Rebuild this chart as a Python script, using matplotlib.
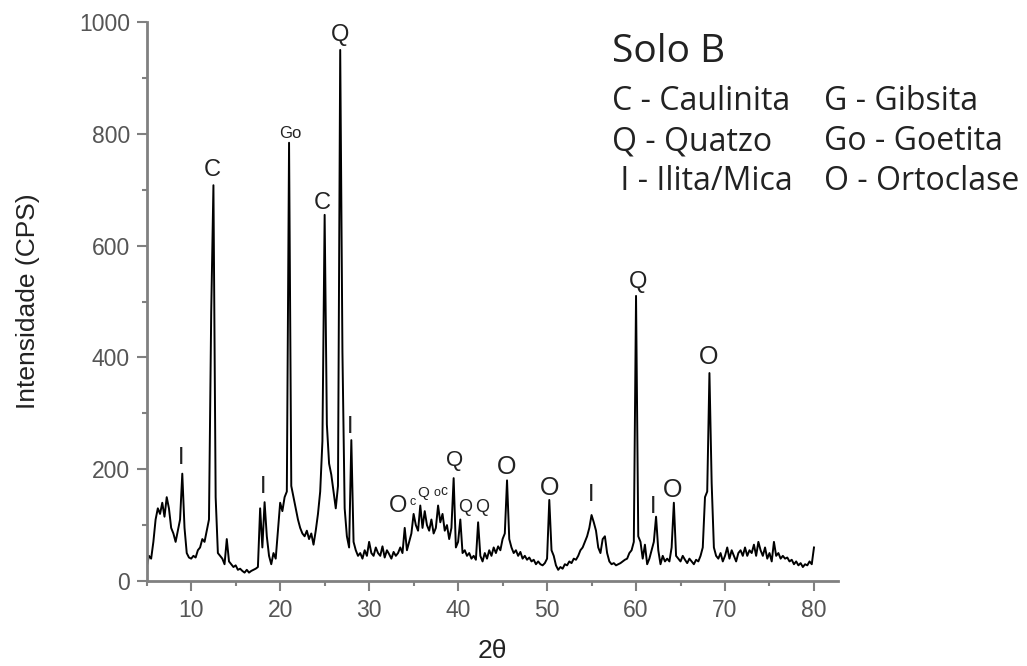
import matplotlib.pyplot as plt
import numpy as np

plt.rcParams['font.family'] = ['Liberation Sans', 'DejaVu Sans']

# XRD pattern, Solo B (2theta step 0.25 deg, 5 to 80)
two_theta = np.arange(5, 80.01, 0.25)
cps = [
    25, 45, 40, 70,      110, 130, 120, 140,   115, 150, 130, 95,    85, 70, 90, 110,
    192, 95, 50, 42,     40, 45, 42, 55,       60, 75, 70, 90,       110, 480, 708, 150,
    50, 45, 40, 30,      75, 35, 30, 25,       28, 20, 22, 18,       15, 20, 15, 18,
    20, 22, 25, 130,     60, 141, 80, 45,      30, 50, 40, 90,       140, 125, 150, 160,
    784, 170, 150, 130,  110, 95, 85, 80,      90, 75, 85, 65,       90, 120, 160, 250,
    655, 280, 210, 190,  160, 130, 170, 950,   410, 130, 80, 60,     252, 70, 55, 45,
    50, 40, 55, 45,      70, 50, 45, 60,       50, 45, 62, 42,       55, 48, 40, 52,
    45, 50, 60, 50,      95, 55, 70, 85,       120, 100, 90, 135,    95, 125, 100, 90,
    110, 85, 95, 135,    105, 120, 90, 100,    75, 95, 184, 60,      70, 110, 50, 55,
    45, 50, 40, 45,      38, 105, 45, 35,      50, 40, 55, 45,       60, 50, 62, 55,
    75, 85, 180, 75,     60, 50, 55, 45,       52, 40, 45, 38,       42, 35, 38, 30,
    35, 30, 28, 32,      40, 145, 55, 45,      28, 20, 25, 22,       30, 28, 35, 32,
    40, 38, 45, 55,      60, 70, 80, 95,       118, 105, 90, 60,     50, 75, 80, 50,
    35, 30, 32, 28,      30, 32, 35, 38,       40, 50, 55, 70,       510, 80, 70, 40,
    65, 30, 40, 55,      70, 115, 55, 30,      45, 35, 40, 35,       60, 140, 45, 40,
    35, 45, 38, 32,      40, 35, 30, 38,       35, 45, 60, 150,      160, 372, 175, 60,
    45, 40, 50, 35,      45, 60, 40, 55,       45, 35, 50, 55,       45, 60, 45, 55,
    50, 65, 45, 70,      55, 45, 60, 40,       50, 35, 70, 45,       50, 40, 45, 40,
    42, 35, 38, 30,      35, 28, 32, 25,       30, 28, 35, 30,
    60,
]

# mineral identification over the peaks
peak_labels = ['I', 'C', 'I', 'Go', 'C', 'Q', 'I', 'O', 'c', 'Q', 'o', 'c',
               'Q', 'Q', 'Q', 'O', 'O', 'I', 'Q', 'I', 'O', 'O']
label_x = [8.9, 12.34, 18.07, 21.1, 24.7, 26.72, 27.85, 33.24, 34.9, 36.05, 37.6, 38.4,
           39.64, 40.76, 42.67, 45.48, 50.3, 54.9, 60.2, 61.9, 64.1, 68.2]
label_y = [220, 735, 168, 801, 676, 977, 275, 134, 142, 157, 157, 161,
           215, 132, 132, 204, 166, 153, 535, 132, 163, 401]
label_size = [17, 17, 17, 12, 17, 17, 17, 17, 9, 11, 9, 10,
              16, 13, 13, 18, 18, 17, 17, 17, 18, 18]

legend_title = 'Solo B'
legend_col1 = ['C - Caulinita', 'Q - Quatzo', ' I - Ilita/Mica']
legend_col2 = ['G - Gibsita', 'Go - Goetita', 'O - Ortoclase']

W, H = 1027, 666
fig = plt.figure(figsize=(W / 100, H / 100), dpi=100)
ax = fig.add_axes([146.7 / W, 1 - 581 / H, (838 - 146.7) / W, (581 - 22) / H])

ax.plot(two_theta, cps, color='black', lw=1.4)

for lab, x, y, s in zip(peak_labels, label_x, label_y, label_size):
    ax.text(x, y, lab, ha='center', va='center', fontsize=s, color='#222222')

ax.set_xlim(5, 82.7)
ax.set_ylim(0, 1000)
ax.set_xticks([10, 20, 30, 40, 50, 60, 70, 80])
ax.set_xticks([5, 15, 25, 35, 45, 55, 65, 75], minor=True)
ax.set_yticks([0, 200, 400, 600, 800, 1000])
ax.set_yticks([100, 300, 500, 700, 900], minor=True)

for side in ['top', 'right']:
    ax.spines[side].set_visible(False)
for side in ['left', 'bottom']:
    ax.spines[side].set_color('#808080')
    ax.spines[side].set_linewidth(2)

ax.tick_params(which='major', length=7, width=1.5, color='#808080',
               labelsize=16.5, labelcolor='#555555')
ax.tick_params(which='minor', length=3.5, width=1.5, color='#808080')
ax.tick_params(axis='x', pad=6)
ax.tick_params(axis='y', pad=5)

ax.set_ylabel('Intensidade (CPS)', fontsize=19, color='#222222', labelpad=28)
ax.set_xlabel('2θ', fontsize=19, color='#222222', labelpad=12)

fig.text(612 / W, 1 - 52 / H, legend_title, fontsize=28, va='center',
         family='Open Sans', color='#222222')
rows_y = [102, 142, 182]
for t1, t2, ry in zip(legend_col1, legend_col2, rows_y):
    fig.text(612 / W, 1 - ry / H, t1, fontsize=23, va='center',
             family='Open Sans', color='#222222')
    fig.text(824 / W, 1 - ry / H, t2, fontsize=23, va='center',
             family='Open Sans', color='#222222')

fig.savefig('out.png', dpi=100)
